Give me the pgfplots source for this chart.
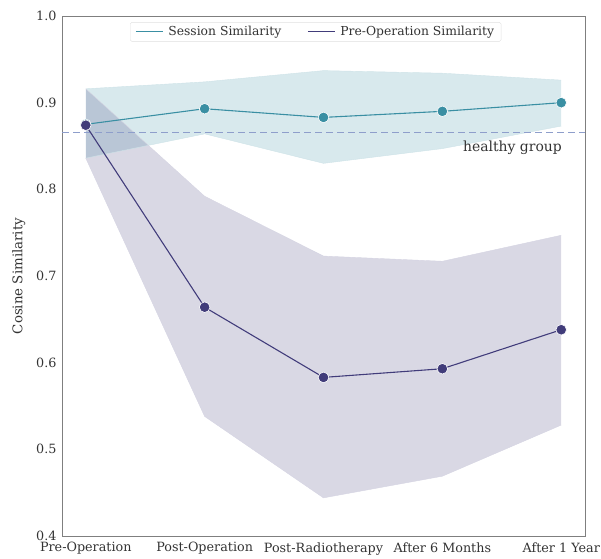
\documentclass[border=0pt]{standalone}
\usepackage{fontspec}
\setmainfont{DejaVu Serif}
\usepackage{pgfplots}
\pgfplotsset{compat=1.18}
\usepgfplotslibrary{fillbetween}

\definecolor{sessline}{HTML}{3A8FA3}
\definecolor{preline}{HTML}{413C7A}
\definecolor{healthy}{HTML}{8E9ECB}
\definecolor{framec}{HTML}{7F7F7F}
\definecolor{txt}{HTML}{333333}

\newcommand{\tickfont}{\fontsize{12.8}{14}\selectfont}
\newcommand{\legfont}{\fontsize{12.4}{14}\selectfont}
\newcommand{\labfont}{\fontsize{13.4}{15}\selectfont}

\begin{document}
\begin{tikzpicture}
\begin{axis}[
  scale only axis,
  width=523bp, height=520bp,
  xmin=-0.2, xmax=4.2,
  ymin=0.4, ymax=1.0,
  xtick={0,1,2,3,4},
  xticklabels={Pre-Operation,Post-Operation,Post-Radiotherapy,After 6 Months,After 1 Year},
  ytick={0.4,0.5,0.6,0.7,0.8,0.9,1.0},
  yticklabel style={/pgf/number format/fixed,/pgf/number format/fixed zerofill,/pgf/number format/precision=1, xshift=-2bp},
  /pgf/number format/assume math mode=true,
  tick style={draw=none},
  major tick length=0pt,
  ticklabel style={font=\tickfont, text=txt},
  xticklabel style={yshift=-3bp},
  axis line style={framec, line width=0.8pt},
  ylabel={Cosine Similarity},
  ylabel style={font=\labfont, text=txt, yshift=4bp},
  legend style={at={(0.485,0.988)}, anchor=north, legend columns=2,
    draw=black!12, rounded corners=1.5pt, fill=white,
    font=\legfont, text=txt, inner ysep=2bp, inner xsep=5bp,
    /tikz/every odd column/.append style={column sep=3bp},
    /tikz/every even column/.append style={column sep=24bp}},
  legend cell align=left,
  legend image code/.code={\draw[#1, mark=none] (0bp,0bp) -- (27bp,0bp);},
  clip=true,
]
% confidence bands
\addplot[name path=sU, draw=sessline!25, line width=0.4pt, forget plot] coordinates {(0,0.916) (1,0.924) (2,0.937) (3,0.934) (4,0.926)};
\addplot[name path=sL, draw=sessline!25, line width=0.4pt, forget plot] coordinates {(0,0.836) (1,0.864) (2,0.830) (3,0.847) (4,0.873)};
\addplot[fill=sessline, fill opacity=0.2, draw=none, forget plot] fill between[of=sU and sL];

\addplot[name path=pU, draw=preline!22, line width=0.4pt, forget plot] coordinates {(0,0.916) (1,0.792) (2,0.723) (3,0.717) (4,0.747)};
\addplot[name path=pL, draw=preline!22, line width=0.4pt, forget plot] coordinates {(0,0.836) (1,0.538) (2,0.444) (3,0.469) (4,0.528)};
\addplot[fill=preline, fill opacity=0.2, draw=none, forget plot] fill between[of=pU and pL];

% healthy reference level
\addplot[healthy, line width=1.2pt, dash pattern=on 7bp off 4bp, forget plot] coordinates {(-0.2,0.866) (4.2,0.866)};
\node[anchor=north east, font=\fontsize{14}{16}\selectfont, text=txt] at (axis cs:4.035,0.860) {healthy group};

% means
\addplot[sessline, line width=1.1pt, mark=*, mark size=5.3bp, mark options={fill=sessline, draw=white, line width=0.6pt}]
  coordinates {(0,0.875) (1,0.893) (2,0.883) (3,0.890) (4,0.900)};
\addlegendentry{Session Similarity}
\addplot[preline, line width=1.1pt, mark=*, mark size=5.3bp, mark options={fill=preline, draw=white, line width=0.6pt}]
  coordinates {(0,0.874) (1,0.664) (2,0.583) (3,0.593) (4,0.638)};
\addlegendentry{Pre-Operation Similarity}
\end{axis}
\pgfresetboundingbox
\useasboundingbox (-62bp,-23bp) rectangle (539bp,536bp);
\end{tikzpicture}
\end{document}
